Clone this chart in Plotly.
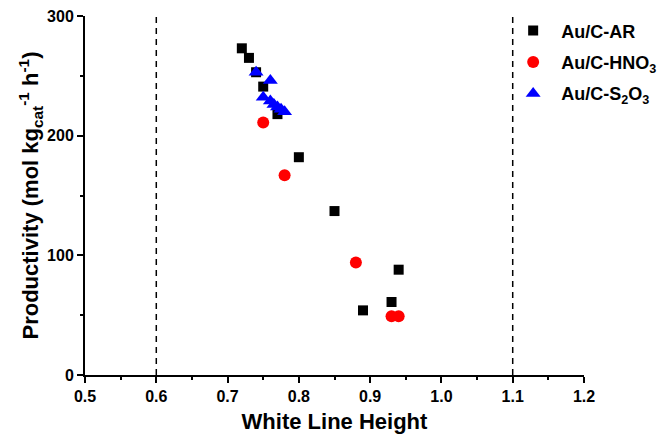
import plotly.graph_objects as go

# White line height vs productivity for three catalyst treatments
ar_x = [0.72, 0.73, 0.74, 0.75, 0.77, 0.80, 0.85, 0.89, 0.93, 0.94]
ar_y = [273, 265, 253, 241, 218, 182, 137, 54, 61, 88]

hno3_x = [0.75, 0.78, 0.88, 0.93, 0.94]
hno3_y = [211, 167, 94, 49, 49]

s2o3_x = [0.74, 0.76, 0.75, 0.76, 0.765, 0.77, 0.775, 0.78]
s2o3_y = [253, 246, 232, 229, 226, 224, 222, 220]

# dashed reference lines
ref_x = [0.6, 1.1]

x_ticks = [0.5, 0.6, 0.7, 0.8, 0.9, 1.0, 1.1, 1.2]
y_ticks = [0, 100, 200, 300]

FONT = "Liberation Sans, Arial, sans-serif"

fig = go.Figure()

fig.add_trace(go.Scatter(
    x=ar_x, y=ar_y, mode="markers", name="<b>Au/C-AR</b>",
    legendgroup="a",
    marker=dict(symbol="square", size=10, color="black"),
))
fig.add_trace(go.Scatter(
    x=hno3_x, y=hno3_y, mode="markers", name="<b>Au/C-HNO<sub>3</sub></b>",
    legendgroup="b",
    marker=dict(symbol="circle", size=12, color="#ff0000"),
))
fig.add_trace(go.Scatter(
    x=s2o3_x, y=s2o3_y, mode="markers", name="<b>Au/C-S<sub>2</sub>O<sub>3</sub></b>",
    legendgroup="c",
    marker=dict(symbol="triangle-up", size=13, color="#0000ff"),
))

for xv in ref_x:
    fig.add_shape(type="line", x0=xv, x1=xv, y0=0, y1=300, xref="x", yref="y",
                  line=dict(color="black", width=1.5, dash="6px,5px"), layer="below")

# page body adds an 8px margin, so the figure is sized to fit inside it
fig.update_layout(
    width=658, height=433,
    margin=dict(l=77, r=82, t=8, b=66, autoexpand=False),
    plot_bgcolor="white", paper_bgcolor="white",
    font=dict(family=FONT, size=16, color="black"),
    showlegend=True,
    legend=dict(
        x=0.842, y=1.01, xanchor="left", yanchor="top",
        font=dict(family=FONT, size=18, color="black"),
        bgcolor="rgba(0,0,0,0)",
        traceorder="grouped", tracegroupgap=5,
        itemwidth=46,
    ),
)

fig.update_xaxes(
    range=[0.5, 1.2], tickmode="array", tickvals=x_ticks,
    ticktext=["<b>%.1f</b>" % v for v in x_ticks],
    showgrid=False, zeroline=False,
    showline=True, linecolor="black", linewidth=2,
    ticks="outside", ticklen=6, tickwidth=2, tickcolor="black",
    minor=dict(dtick=0.05, ticks="outside", ticklen=3, tickwidth=2, tickcolor="black", showgrid=False),
    tickfont=dict(family=FONT, size=16),
    title=dict(text="<b>White Line Height</b>", font=dict(family=FONT, size=22), standoff=9),
)
fig.update_yaxes(
    range=[0, 300], tickmode="array", tickvals=y_ticks,
    ticktext=["<b>%d</b>" % v for v in y_ticks],
    ticklabeloverflow="allow",
    showgrid=False, zeroline=False,
    showline=True, linecolor="black", linewidth=2,
    ticks="outside", ticklen=6, tickwidth=2, tickcolor="black",
    minor=dict(dtick=50, ticks="outside", ticklen=3, tickwidth=2, tickcolor="black", showgrid=False),
    tickfont=dict(family=FONT, size=16),
    title=dict(text="<b>Productivity (mol kg<sub>cat</sub><sup>-1</sup> h<sup>-1</sup>)</b>",
               font=dict(family=FONT, size=22), standoff=2),
)

fig.write_html("out.html")
